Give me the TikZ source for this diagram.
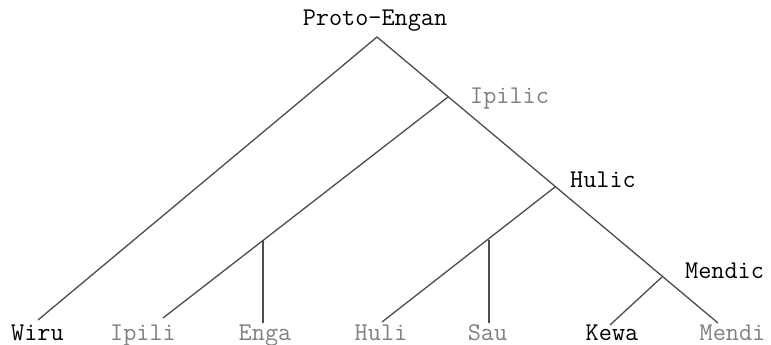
\documentclass[tikz,border=0pt]{standalone}
\begin{document}
\begin{tikzpicture}[x=1pt,y=-1pt,
  lbl/.style={font=\ttfamily\fontsize{25.5}{25.5}\selectfont, inner sep=0pt, anchor=base},
  blk/.style={lbl,text=black},
  gry/.style={lbl,text=black!50},
  edge/.style={draw=black!70, line width=1.3pt}]
\useasboundingbox (0,0) rectangle (771,345);
% junctions and line ends
\coordinate (root) at (377,37);
\coordinate (jipilic) at (448,97);
\coordinate (jhulic) at (555,187);
\coordinate (jmendic) at (662,277);
\coordinate (emendi) at (718,323);
\coordinate (ewiru) at (38,320);
\coordinate (eipili) at (163,318);
\coordinate (tenga) at (263,240);
\coordinate (eenga) at (263,323);
\coordinate (ehuli) at (382,322);
\coordinate (tsau) at (489,240);
\coordinate (esau) at (489,323);
\coordinate (ekewa) at (610,325);
% labels
\node[blk] (proto) at (375,26) {Proto-Engan};
\node[gry,anchor=base west] (ipilic) at (470,103) {Ipilic};
\node[blk,anchor=base west] (hulic) at (570,187) {Hulic};
\node[blk,anchor=base west] (mendic) at (685,278) {Mendic};
\node[blk] (wiru) at (37.5,340) {Wiru};
\node[gry] (ipili) at (143,340) {Ipili};
\node[gry] (enga) at (265,340) {Enga};
\node[gry] (huli) at (381,340) {Huli};
\node[gry] (sau) at (487.5,340) {Sau};
\node[blk] (kewa) at (612,340) {Kewa};
\node[gry] (mendi) at (732.5,340) {Mendi};
% tree
\draw[edge] (ewiru) -- (root) -- (emendi);
\draw[edge] (jipilic) -- (eipili);
\draw[edge] (tenga) -- (eenga);
\draw[edge] (jhulic) -- (ehuli);
\draw[edge] (tsau) -- (esau);
\draw[edge] (jmendic) -- (ekewa);
\end{tikzpicture}
\end{document}
